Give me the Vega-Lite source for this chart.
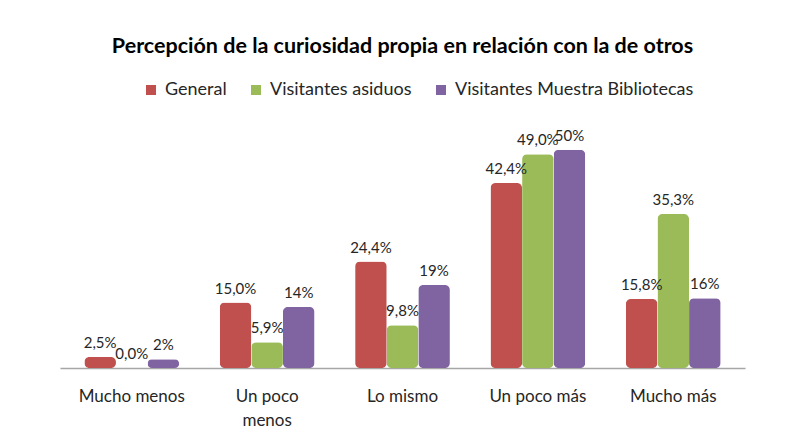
{
  "$schema": "https://vega.github.io/schema/vega-lite/v6.json",
  "width": 685,
  "height": 240,
  "autosize": "none",
  "padding": {"left": 60, "top": 128, "right": 59, "bottom": 78},
  "background": "white",
  "title": {
    "text": "Percepción de la curiosidad propia en relación con la de otros",
    "font": "Lato",
    "fontSize": 21.5,
    "fontWeight": "bold",
    "color": "#000000",
    "anchor": "middle",
    "offset": 24
  },
  "data": {
    "values": [
      {"cat": "Mucho menos", "serie": "General", "valor": 2.5, "etiqueta": "2,5%"},
      {"cat": "Mucho menos", "serie": "Visitantes asiduos", "valor": 0.0, "etiqueta": "0,0%"},
      {"cat": "Mucho menos", "serie": "Visitantes Muestra Bibliotecas", "valor": 2, "etiqueta": "2%"},
      {"cat": "Un poco menos", "serie": "General", "valor": 15.0, "etiqueta": "15,0%"},
      {"cat": "Un poco menos", "serie": "Visitantes asiduos", "valor": 5.9, "etiqueta": "5,9%"},
      {"cat": "Un poco menos", "serie": "Visitantes Muestra Bibliotecas", "valor": 14, "etiqueta": "14%"},
      {"cat": "Lo mismo", "serie": "General", "valor": 24.4, "etiqueta": "24,4%"},
      {"cat": "Lo mismo", "serie": "Visitantes asiduos", "valor": 9.8, "etiqueta": "9,8%"},
      {"cat": "Lo mismo", "serie": "Visitantes Muestra Bibliotecas", "valor": 19, "etiqueta": "19%"},
      {"cat": "Un poco más", "serie": "General", "valor": 42.4, "etiqueta": "42,4%"},
      {"cat": "Un poco más", "serie": "Visitantes asiduos", "valor": 49.0, "etiqueta": "49,0%"},
      {"cat": "Un poco más", "serie": "Visitantes Muestra Bibliotecas", "valor": 50, "etiqueta": "50%"},
      {"cat": "Mucho más", "serie": "General", "valor": 15.8, "etiqueta": "15,8%"},
      {"cat": "Mucho más", "serie": "Visitantes asiduos", "valor": 35.3, "etiqueta": "35,3%"},
      {"cat": "Mucho más", "serie": "Visitantes Muestra Bibliotecas", "valor": 16, "etiqueta": "16%"}
    ]
  },
  "encoding": {
    "x": {
      "field": "cat",
      "type": "nominal",
      "sort": ["Mucho menos", "Un poco menos", "Lo mismo", "Un poco más", "Mucho más"],
      "scale": {"paddingInner": 0.3, "paddingOuter": 0.18},
      "axis": {
        "title": null,
        "labelAngle": 0,
        "labelFont": "Lato",
        "labelFontSize": 17,
        "labelColor": "#262626",
        "labelPadding": 20,
        "labelLineHeight": 24,
        "ticks": false,
        "domainColor": "#A6A6A6",
        "domainWidth": 1.5,
        "labelExpr": "datum.label == 'Un poco menos' ? ['Un poco', 'menos'] : datum.label"
      }
    },
    "xOffset": {
      "field": "serie",
      "type": "nominal",
      "sort": ["General", "Visitantes asiduos", "Visitantes Muestra Bibliotecas"],
      "scale": {"paddingInner": 0}
    },
    "y": {
      "field": "valor",
      "type": "quantitative",
      "scale": {"domain": [0, 55]},
      "axis": null
    },
    "color": {
      "field": "serie",
      "type": "nominal",
      "sort": ["General", "Visitantes asiduos", "Visitantes Muestra Bibliotecas"],
      "scale": {
        "domain": ["General", "Visitantes asiduos", "Visitantes Muestra Bibliotecas"],
        "range": ["#C0504D", "#9BBB59", "#8064A2"]
      },
      "legend": {
        "title": null,
        "orient": "none",
        "direction": "horizontal",
        "legendX": 82,
        "legendY": -47,
        "symbolType": "square",
        "symbolSize": 100,
        "symbolStrokeWidth": 0,
        "labelFont": "Lato",
        "labelFontSize": 18,
        "labelLimit": 400,
        "labelColor": "#262626",
        "columnPadding": 20,
        "labelOffset": 5
      }
    }
  },
  "layer": [
    {
      "mark": {"type": "bar", "cornerRadius": 5, "stroke": null}
    },
    {
      "mark": {
        "type": "text",
        "baseline": "bottom",
        "dy": -6,
        "font": "Lato",
        "fontSize": 15,
        "color": "#262626"
      },
      "encoding": {
        "text": {"field": "etiqueta", "type": "nominal"},
        "color": {"value": "#262626"}
      }
    }
  ],
  "config": {
    "view": {"stroke": null}
  }
}
